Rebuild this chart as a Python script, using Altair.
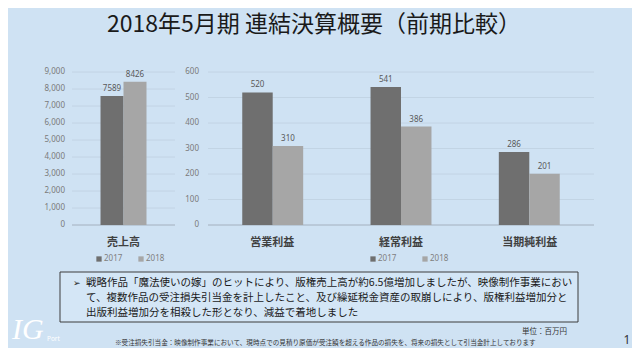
import altair as alt
import pandas as pd

# ---------------- data ----------------
years = ["2017", "2018"]
sales_cat = ["売上高"]
sales_2017 = [7589]
sales_2018 = [8426]
profit_cats = ["営業利益", "経常利益", "当期純利益"]
profit_2017 = [520, 541, 286]
profit_2018 = [310, 386, 201]
sales_ticks = list(range(0, 9001, 1000))
profit_ticks = list(range(0, 601, 100))

title_text = "2018年5月期 連結決算概要（前期比較）"
box_lines = [
    "戦略作品「魔法使いの嫁」のヒットにより、版権売上高が約6.5億増加しましたが、映像制作事業におい",
    "て、複数作品の受注損失引当金を計上したこと、及び繰延税金資産の取崩しにより、版権利益増加分と",
    "出版利益増加分を相殺した形となり、減益で着地しました",
]
unit_text = "単位：百万円"
note_text = "※受注損失引当金：映像制作事業において、現時点での見積り原価が受注額を超える作品の損失を、将来の損失として引当金計上しております"
page_no = "1"

# ---------------- tables ----------------
left_df = pd.DataFrame({
    "cat": sales_cat * 2,
    "year": [years[0]] * len(sales_cat) + [years[1]] * len(sales_cat),
    "value": sales_2017 + sales_2018,
})
right_df = pd.DataFrame({
    "cat": profit_cats * 2,
    "year": [years[0]] * len(profit_cats) + [years[1]] * len(profit_cats),
    "value": profit_2017 + profit_2018,
})
left_ticks_df = pd.DataFrame({"v": sales_ticks, "lab": [f"{t:,}" for t in sales_ticks]})
right_ticks_df = pd.DataFrame({"v": profit_ticks, "lab": [f"{t:,}" for t in profit_ticks]})
left_cat_df = pd.DataFrame({"cat": sales_cat})
right_cat_df = pd.DataFrame({"cat": profit_cats})
one = pd.DataFrame({"k": [0]})

M = 8  # page margin
FONT = "Noto Sans CJK JP"
NUMFONT = "Noto Sans"
BG = "#cfe2f3"
C2017 = "#6f6f6f"
C2018 = "#a6a6a6"

TOP, BOT = 72 - M, 225 - M

def sx_left():
    return alt.Scale(domain=sales_cat, range=[72 - M, 175 - M], paddingInner=0, paddingOuter=0.62)

def sy_left():
    return alt.Scale(domain=[0, 9000], range=[BOT, TOP], nice=False, zero=True)

def sx_right():
    return alt.Scale(domain=profit_cats, range=[208 - M, 594 - M], paddingInner=0.525, paddingOuter=0.267)

def sy_right():
    return alt.Scale(domain=[0, 600], range=[BOT, TOP], nice=False, zero=True)

def off_band():
    return alt.Scale(domain=years, paddingInner=0, paddingOuter=0)

def off_point():
    return alt.Scale(type="point", domain=years, padding=0.5)

def legend(x):
    return alt.Legend(orient="none", legendX=x, legendY=255 - M, direction="horizontal",
                      title=None, symbolType="square", symbolSize=28, symbolStrokeWidth=0,
                      labelFontSize=8, labelColor="#7f7f7f", labelFont=NUMFONT,
                      columnPadding=14 if x < 200 else 24, labelOffset=1, padding=0)

layers = []

def panel(df, ticks_df, cat_df, sx, sy, x0, x1, label_x, legend_x):
    grid = alt.Chart(ticks_df).mark_rule(strokeWidth=0.8).encode(
        y=alt.Y("v:Q", scale=sy(), axis=None),
        x=alt.value(x0 - M), x2=alt.value(x1 - M),
        color=alt.condition("datum.v == 0", alt.value("#9aa5b0"), alt.value("#bfd0e0")),
    )
    ticklab = alt.Chart(ticks_df).mark_text(align="right", baseline="middle", font=NUMFONT,
                                            fontSize=8, color="#7a7a7a").encode(
        y=alt.Y("v:Q", scale=sy(), axis=None),
        x=alt.value(label_x - M),
        text="lab:N",
    )
    bars = alt.Chart(df).mark_bar().encode(
        x=alt.X("cat:N", scale=sx(), axis=None),
        xOffset=alt.XOffset("year:N", scale=off_band()),
        y=alt.Y("value:Q", scale=sy(), axis=None),
        color=alt.Color("year:N", scale=alt.Scale(domain=years, range=[C2017, C2018]),
                        legend=legend(legend_x - M)),
    )
    vals = alt.Chart(df).mark_text(baseline="bottom", dy=-3, font=NUMFONT, fontSize=8,
                                   color="#595959").encode(
        x=alt.X("cat:N", scale=sx(), axis=None),
        xOffset=alt.XOffset("year:N", scale=off_point()),
        y=alt.Y("value:Q", scale=sy(), axis=None),
        text="value:Q",
    )
    cats = alt.Chart(cat_df).mark_text(baseline="middle", font=FONT, fontSize=11,
                                       fontWeight="bold", color="#404040").encode(
        x=alt.X("cat:N", scale=sx(), axis=None),
        y=alt.value(243 - M),
        text="cat:N",
    )
    return [grid, ticklab, bars, vals, cats]

layers += panel(left_df, left_ticks_df, left_cat_df, sx_left, sy_left, 72, 175, 65, 95)
layers += panel(right_df, right_ticks_df, right_cat_df, sx_right, sy_right, 208, 594, 199, 369)

# title
layers.append(alt.Chart(one).mark_text(font=FONT, fontSize=23, color="#1a1a1a", baseline="alphabetic",
                                       align="center").encode(
    x=alt.value(314 - M), y=alt.value(32 - M), text=alt.value(title_text)))

# text box
layers.append(alt.Chart(one).mark_rect(fill="#d4e6f6", stroke="#3c3c3c", strokeWidth=1).encode(
    x=alt.value(60 - M), x2=alt.value(578 - M), y=alt.value(272 - M), y2=alt.value(322 - M)))
layers.append(alt.Chart(one).mark_text(font="DejaVu Sans", fontSize=9, color="#222222",
                                       align="left", baseline="middle").encode(
    x=alt.value(73 - M), y=alt.value(283 - M), text=alt.value("➢")))
for i, line in enumerate(box_lines):
    layers.append(alt.Chart(one).mark_text(font=FONT, fontSize=10.5, color="#1a1a1a",
                                           align="left", baseline="middle").encode(
        x=alt.value(86 - M), y=alt.value(283 - M + 15 * i), text=alt.value(line)))

# footnotes
layers.append(alt.Chart(one).mark_text(font=FONT, fontSize=7.5, color="#333333",
                                       align="right", baseline="middle").encode(
    x=alt.value(567 - M), y=alt.value(332 - M), text=alt.value(unit_text)))
layers.append(alt.Chart(one).mark_text(font=FONT, fontSize=6.6, color="#333333",
                                       align="left", baseline="middle").encode(
    x=alt.value(115 - M), y=alt.value(343 - M), text=alt.value(note_text)))
layers.append(alt.Chart(one).mark_text(font=NUMFONT, fontSize=12, color="#333333",
                                       align="center", baseline="middle").encode(
    x=alt.value(627 - M), y=alt.value(340 - M), text=alt.value(page_no)))

# logo
layers.append(alt.Chart(one).mark_text(font="Liberation Serif", fontSize=30, fontStyle="italic",
                                       color="#ffffff", align="left", baseline="middle").encode(
    x=alt.value(12 - M), y=alt.value(330 - M), text=alt.value("IG")))
layers.append(alt.Chart(one).mark_text(font=NUMFONT, fontSize=6.5, color="#ffffff",
                                       align="left", baseline="middle").encode(
    x=alt.value(47 - M), y=alt.value(339 - M), text=alt.value("Port")))

chart = alt.layer(*layers).resolve_scale(
    x="independent", y="independent", color="independent", xOffset="independent"
).properties(
    width=624, height=340, background=BG, padding=0,
    autosize=alt.AutoSizeParams(type="none"),
).configure_view(stroke=None)

chart.save("out.html", embed_options={"renderer": "svg", "actions": False})
